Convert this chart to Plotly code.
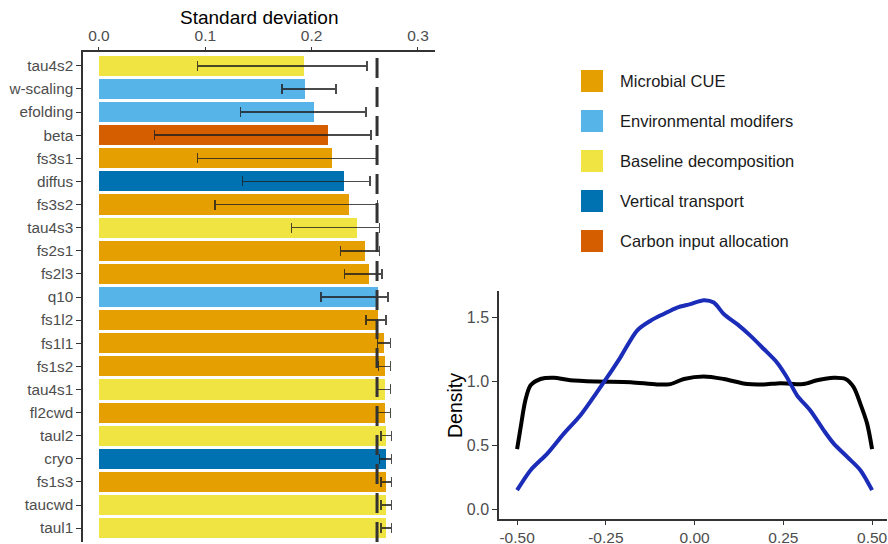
import plotly.graph_objects as go

# ---------------- data ----------------
params = ["tau4s2", "w-scaling", "efolding", "beta", "fs3s1", "diffus", "fs3s2",
          "tau4s3", "fs2s1", "fs2l3", "q10", "fs1l2", "fs1l1", "fs1s2", "tau4s1",
          "fl2cwd", "taul2", "cryo", "fs1s3", "taucwd", "taul1"]
groups = ["Baseline decomposition", "Environmental modifers", "Environmental modifers",
          "Carbon input allocation", "Microbial CUE", "Vertical transport", "Microbial CUE",
          "Baseline decomposition", "Microbial CUE", "Microbial CUE", "Environmental modifers",
          "Microbial CUE", "Microbial CUE", "Microbial CUE", "Baseline decomposition",
          "Microbial CUE", "Baseline decomposition", "Vertical transport", "Microbial CUE",
          "Baseline decomposition", "Baseline decomposition"]
sd_mean = [0.1925, 0.194, 0.202, 0.215, 0.219, 0.230, 0.235, 0.243, 0.250, 0.254, 0.262,
           0.262, 0.268, 0.269, 0.269, 0.269, 0.270, 0.270, 0.270, 0.270, 0.270]
sd_low = [0.0925, 0.172, 0.133, 0.052, 0.0925, 0.135, 0.109, 0.181, 0.227, 0.231, 0.209,
          0.251, 0.262, 0.263, 0.261, 0.262, 0.265, 0.264, 0.265, 0.265, 0.265]
sd_high = [0.252, 0.223, 0.251, 0.256, 0.261, 0.255, 0.262, 0.264, 0.264, 0.266, 0.272,
           0.270, 0.274, 0.274, 0.274, 0.274, 0.275, 0.275, 0.275, 0.275, 0.275]
reference_sd = 0.2615

legend_groups = ["Microbial CUE", "Environmental modifers", "Baseline decomposition",
                 "Vertical transport", "Carbon input allocation"]
group_colors = ["#E69F00", "#56B4E9", "#F0E442", "#0072B2", "#D55E00"]

dens_x_black = [-0.5, -0.49, -0.477, -0.462, -0.434, -0.397, -0.35, -0.275, -0.18, -0.106,
                -0.068, -0.03, 0.026, 0.082, 0.148, 0.195, 0.242, 0.307, 0.345, 0.392,
                0.425, 0.448, 0.467, 0.486, 0.5]
dens_y_black = [0.47, 0.64, 0.85, 0.97, 1.02, 1.03, 1.01, 1.0, 0.995, 0.977,
                0.98, 1.02, 1.04, 1.02, 0.98, 0.977, 0.987, 0.98, 1.01, 1.03,
                1.02, 0.956, 0.825, 0.67, 0.47]
dens_x_blue = [-0.5, -0.462, -0.415, -0.369, -0.322, -0.275, -0.246, -0.209, -0.162, -0.124,
               -0.087, -0.049, -0.012, 0.026, 0.054, 0.082, 0.12, 0.157, 0.195, 0.232,
               0.26, 0.289, 0.326, 0.364, 0.392, 0.43, 0.467, 0.5]
dens_y_blue = [0.148, 0.305, 0.435, 0.59, 0.734, 0.917, 1.034, 1.19, 1.40, 1.477,
               1.53, 1.58, 1.607, 1.638, 1.62, 1.53, 1.45, 1.36, 1.255, 1.15,
               1.034, 0.89, 0.773, 0.617, 0.513, 0.409, 0.305, 0.148]

sd_ticks = [0.0, 0.1, 0.2, 0.3]
sd_ticklabels = ["0.0", "0.1", "0.2", "0.3"]
dens_xticks = [-0.5, -0.25, 0.0, 0.25, 0.5]
dens_xticklabels = ["-0.50", "-0.25", "0.00", "0.25", "0.50"]
dens_yticks = [0.0, 0.5, 1.0, 1.5]
dens_yticklabels = ["0.0", "0.5", "1.0", "1.5"]

# ---------------- figure ----------------
cmap = dict(zip(legend_groups, group_colors))
FONT = "Liberation Sans, Arial, sans-serif"
AX = "#333333"
TICK = "#4D4D4D"

fig = go.Figure()
fig.add_trace(go.Bar(
    y=params, x=sd_mean, orientation="h", width=0.87,
    marker=dict(color=[cmap[g] for g in groups], line=dict(width=0)),
    error_x=dict(type="data", symmetric=False,
                 array=[h - m for h, m in zip(sd_high, sd_mean)],
                 arrayminus=[m - l for m, l in zip(sd_mean, sd_low)],
                 color="rgba(30,30,30,0.8)", thickness=1.5, width=5),
    xaxis="x", yaxis="y", showlegend=False, hoverinfo="skip"))

fig.add_trace(go.Scatter(x=dens_x_black, y=dens_y_black, mode="lines",
                         line=dict(color="black", width=4, shape="spline", smoothing=0.8),
                         xaxis="x2", yaxis="y2", showlegend=False))
fig.add_trace(go.Scatter(x=dens_x_blue, y=dens_y_blue, mode="lines",
                         line=dict(color="#1a2cb8", width=4, shape="spline", smoothing=0.8),
                         xaxis="x2", yaxis="y2", showlegend=False))

# reference dashed line
fig.add_shape(type="line", xref="x", yref="y domain", x0=reference_sd, x1=reference_sd,
              y0=0, y1=1, line=dict(color="#333333", width=3, dash="20px,9px"))

# manual legend
for i, (g, c) in enumerate(zip(legend_groups, group_colors)):
    ytop = 1 - (70 + 40 * i) / 544
    fig.add_shape(type="rect", xref="paper", yref="paper",
                  x0=581 / 888, x1=603 / 888, y0=ytop - 22 / 544, y1=ytop,
                  fillcolor=c, line=dict(width=0))
    fig.add_annotation(xref="paper", yref="paper", x=618 / 888, y=ytop - 11 / 544,
                       text=g, showarrow=False, xanchor="left", yanchor="middle",
                       font=dict(family=FONT, size=16.5, color="#1a1a1a"))

# titles
fig.add_annotation(xref="paper", yref="paper", x=259 / 888, y=1 - 18 / 544,
                   text="Standard deviation", showarrow=False, xanchor="center",
                   yanchor="middle", font=dict(family=FONT, size=19, color="black"))
fig.add_annotation(xref="paper", yref="paper", x=455 / 888, y=1 - 406 / 544,
                   text="Density", showarrow=False, textangle=-90, xanchor="center",
                   yanchor="middle", font=dict(family=FONT, size=19.5, color="black"))

fig.update_layout(
    width=888, height=544, margin=dict(l=0, r=0, t=0, b=0),
    paper_bgcolor="white", plot_bgcolor="white", bargap=0,
    font=dict(family=FONT),
    xaxis=dict(domain=[83 / 888, 435 / 888], anchor="y", side="top", automargin=False,
               range=[-0.015, 0.316], tickvals=sd_ticks, ticktext=sd_ticklabels,
               showgrid=False, zeroline=False, showline=True, linecolor=AX, linewidth=1.5,
               ticks="outside", ticklen=3, tickcolor=AX,
               tickfont=dict(size=15.5, color=TICK)),
    yaxis=dict(domain=[2 / 544, 1 - 52 / 544], anchor="x", automargin=False,
               categoryorder="array", categoryarray=params,
               range=[len(params) - 0.4, -0.6], showgrid=False, zeroline=False,
               showline=True, linecolor=AX, linewidth=1.5, ticks="outside", ticklen=5,
               tickcolor=AX, tickfont=dict(size=15.3, color=TICK)),
    xaxis2=dict(domain=[499 / 888, 887 / 888], anchor="y2", automargin=False,
                range=[-0.551, 0.542], tickvals=dens_xticks, ticktext=dens_xticklabels,
                showgrid=False, zeroline=False, showline=True, linecolor=AX, linewidth=1.5,
                ticks="outside", ticklen=4, tickcolor=AX,
                tickfont=dict(size=15.5, color=TICK)),
    yaxis2=dict(domain=[1 - 519 / 544, 1 - 291 / 544], anchor="x2", automargin=False,
                range=[-0.078, 1.71], tickvals=dens_yticks, ticktext=dens_yticklabels,
                showgrid=False, zeroline=False, showline=True, linecolor=AX, linewidth=1.5,
                ticks="outside", ticklen=5, tickcolor=AX,
                tickfont=dict(size=16, color=TICK)),
)

fig.write_html("out.html")
